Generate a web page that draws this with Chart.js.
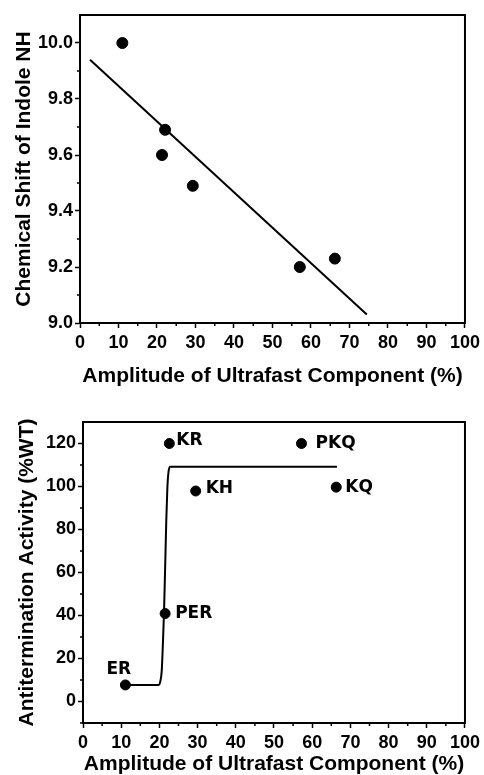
<!DOCTYPE html>
<html>
<head>
<meta charset="utf-8">
<script src="https://cdn.jsdelivr.net/npm/chart.js@4"></script>
<style>
  html, body { margin: 0; padding: 0; background: #fff; }
  canvas { display: block; }
</style>
</head>
<body>
<canvas id="shift" width="484" height="390"></canvas>
<canvas id="activity" width="484" height="385"></canvas>
<script>
// top panel: chemical shift vs amplitude
const shiftX = [11, 22.1, 21.3, 29.3, 57.1, 66.2];
const shiftY = [10.0, 9.69, 9.60, 9.49, 9.20, 9.23];
const fitX = [2.6, 74.5];
const fitY = [9.94, 9.03];

// bottom panel: antitermination activity vs amplitude
const mutants = ['ER', 'PER', 'KR', 'KH', 'PKQ', 'KQ'];
const actX = [11.1, 21.5, 22.6, 29.5, 57.2, 66.3];
const actY = [7.7, 40.9, 120, 97.9, 120, 99.7];
const curveX = [11, 19.8, 20.2, 20.6, 20.9, 21.2, 21.5, 21.8, 22.1, 22.4, 22.8, 66.5];
const curveY = [7.7, 7.7, 9, 14, 26, 41, 62, 84, 100, 107, 109.2, 109.2];

// tick labels
const xTicks = [0, 10, 20, 30, 40, 50, 60, 70, 80, 90, 100];
const xMinor = [5, 15, 25, 35, 45, 55, 65, 75, 85, 95];
const shiftTicks = [9.0, 9.2, 9.4, 9.6, 9.8, 10.0];
const shiftMinor = [9.1, 9.3, 9.5, 9.7, 9.9];
const actTicks = [0, 20, 40, 60, 80, 100, 120];
const actMinor = [-10, 10, 30, 50, 70, 90, 110];

const xTitle = 'Amplitude of Ultrafast Component (%)';

// label placement relative to each point (px)
const labelOffsets = {
  ER: [-19, -15], PER: [10, 0], KR: [7, -3],
  KH: [10, -2], PKQ: [14, 0], KQ: [9, 0]
};

const pts = (xs, ys) => xs.map((x, i) => ({ x: x, y: ys[i] }));

const frame = {
  id: 'frame',
  afterDraw(chart, args, opts) {
    const { ctx, chartArea: a, scales } = chart;
    ctx.save();
    ctx.strokeStyle = '#000';
    ctx.lineWidth = 2;
    ctx.strokeRect(a.left, a.top, a.right - a.left, a.bottom - a.top);
    ctx.lineWidth = 1.5;
    ctx.beginPath();
    opts.xMinor.forEach(v => {
      const px = scales.x.getPixelForValue(v);
      ctx.moveTo(px, a.bottom);
      ctx.lineTo(px, a.bottom + 3);
    });
    opts.yMinor.forEach(v => {
      const py = scales.y.getPixelForValue(v);
      ctx.moveTo(a.left, py);
      ctx.lineTo(a.left - 3, py);
    });
    ctx.stroke();
    ctx.restore();
  }
};

const pointLabels = {
  id: 'pointLabels',
  afterDatasetsDraw(chart) {
    const { ctx, scales } = chart;
    ctx.save();
    ctx.fillStyle = '#000';
    ctx.font = 'bold 17px "DejaVu Sans"';
    ctx.textBaseline = 'middle';
    mutants.forEach((m, i) => {
      const off = labelOffsets[m];
      ctx.fillText(m, scales.x.getPixelForValue(actX[i]) + off[0],
        scales.y.getPixelForValue(actY[i]) + off[1]);
    });
    ctx.restore();
  }
};

function axes(yMin, yMax, yTicks, yTitle, yWidth, xHeight, xPad, yPad, fmt) {
  const tickFont = { family: 'Liberation Sans', size: 18, weight: 'bold' };
  const titleFont = { family: 'Liberation Sans', size: 21, weight: 'bold', lineHeight: 1 };
  return {
    x: {
      type: 'linear', min: 0, max: 100,
      afterBuildTicks: s => { s.ticks = xTicks.map(v => ({ value: v })); },
      afterFit: s => { s.height = xHeight; },
      ticks: { color: '#000', font: tickFont, padding: 4, maxRotation: 0 },
      grid: { drawOnChartArea: false, tickLength: 5, tickColor: '#000', tickWidth: 1.5 },
      border: { color: '#000', width: 2 },
      title: { display: true, text: xTitle, color: '#000', font: titleFont, padding: { top: 0, bottom: xPad } }
    },
    y: {
      type: 'linear', min: yMin, max: yMax,
      afterBuildTicks: s => { s.ticks = yTicks.map(v => ({ value: v })); },
      afterFit: s => { s.width = yWidth; },
      ticks: { color: '#000', font: tickFont, padding: 2, callback: fmt },
      grid: { drawOnChartArea: false, tickLength: 5, tickColor: '#000', tickWidth: 1.5 },
      border: { color: '#000', width: 2 },
      title: { display: true, text: yTitle, color: '#000', font: titleFont, padding: { top: yPad, bottom: 0 } }
    }
  };
}

new Chart(document.getElementById('shift'), {
  type: 'scatter',
  data: {
    datasets: [{
      data: pts(shiftX, shiftY),
      backgroundColor: '#000', borderColor: '#000',
      pointRadius: 5.5, pointHoverRadius: 5.5
    }, {
      type: 'line',
      data: pts(fitX, fitY),
      borderColor: '#000', borderWidth: 2,
      pointRadius: 0, fill: false
    }]
  },
  options: {
    responsive: false, animation: false,
    layout: { padding: { top: 15, right: 16, left: 0, bottom: 0 } },
    plugins: { legend: { display: false }, tooltip: { enabled: false },
      frame: { xMinor: xMinor, yMinor: shiftMinor } },
    scales: axes(9.0, 10.1, shiftTicks, 'Chemical Shift of Indole NH', 80, 67, 3, 14, v => v.toFixed(1))
  },
  plugins: [frame]
});

new Chart(document.getElementById('activity'), {
  type: 'scatter',
  data: {
    datasets: [{
      data: pts(actX, actY),
      backgroundColor: '#000', borderColor: '#000',
      pointRadius: 5, pointHoverRadius: 5
    }, {
      type: 'line',
      data: pts(curveX, curveY),
      borderColor: '#000', borderWidth: 2,
      pointRadius: 0, fill: false,
      cubicInterpolationMode: 'monotone'
    }]
  },
  options: {
    responsive: false, animation: false,
    layout: { padding: { top: 32, right: 15, left: 0, bottom: 0 } },
    plugins: { legend: { display: false }, tooltip: { enabled: false },
      frame: { xMinor: xMinor, yMinor: actMinor } },
    scales: axes(-10, 130, actTicks, 'Antitermination Activity (%WT)', 83, 52, 0, 17, v => v)
  },
  plugins: [frame, pointLabels]
});
</script>
</body>
</html>
